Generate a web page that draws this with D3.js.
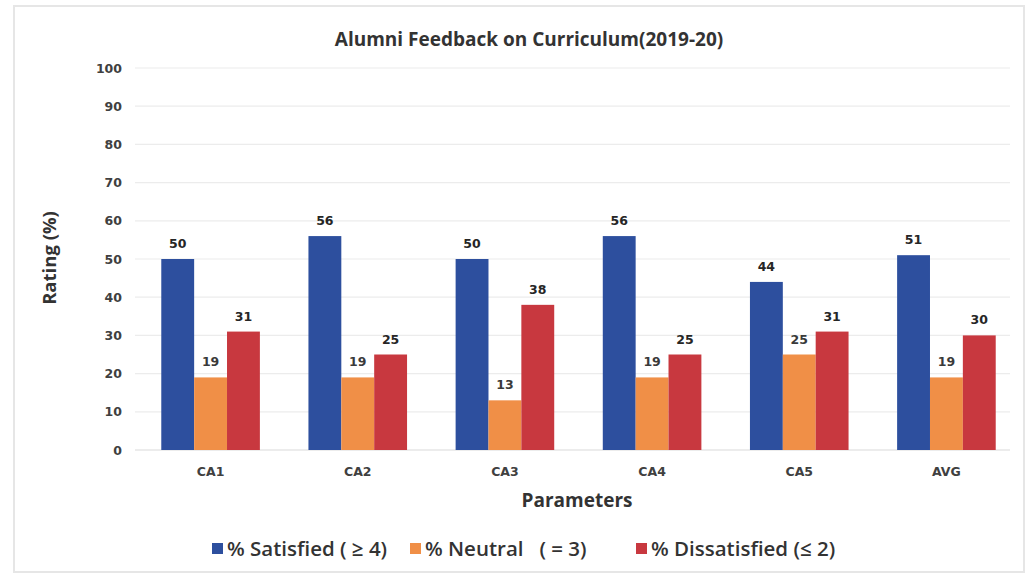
<!DOCTYPE html>
<html><head><meta charset="utf-8">
<script src="https://cdn.jsdelivr.net/npm/d3@7"></script>
<style>body{margin:0;background:#fff}</style>
</head><body>
<svg id="c" width="1029" height="575"></svg>
<script>
const categories = ["CA1","CA2","CA3","CA4","CA5","AVG"];
const seriesNames = ["% Satisfied ( \u2265 4)","% Neutral\u00a0\u00a0\u00a0(\u00a0=\u00a03)","% Dissatisfied (\u2264 2)"];
const satisfied = [50,56,50,56,44,51];
const neutral = [19,19,13,19,25,19];
const dissatisfied = [31,25,38,25,31,30];
const yTicks = [0,10,20,30,40,50,60,70,80,90,100];
const colors = ["#2D4F9E","#F08F47","#C8383F"];

const series = [satisfied, neutral, dissatisfied];
const svg = d3.select("#c");
svg.append("rect").attr("x",14).attr("y",6).attr("width",1010).attr("height",566)
  .attr("fill","none").attr("stroke","#e6e6e6").attr("stroke-width",2);

const x0 = d3.scaleBand().domain(categories).range([137,1020]).paddingInner(0.33).paddingOuter(0.165);
const x1 = d3.scaleBand().domain(d3.range(3)).range([0,x0.bandwidth()]);
const y = d3.scaleLinear().domain([0,100]).range([450,68]);

svg.append("g").selectAll("line").data(yTicks).join("line")
  .attr("x1",135).attr("x2",1010).attr("y1",d=>y(d)).attr("y2",d=>y(d))
  .attr("stroke",d=>d===0?"#d9d9d9":"#ececec").attr("stroke-width",1.2);

const yAxis = d3.axisLeft(y).tickValues(yTicks).tickSize(0).tickPadding(0);
const ga = svg.append("g").attr("transform","translate(122,0)").call(yAxis);
ga.select(".domain").remove();
ga.selectAll("text").attr("font-family","DejaVu Sans").attr("font-weight","bold")
  .attr("font-size",12.5).attr("fill","#404040");

const xAxis = d3.axisBottom(x0).tickSize(0).tickPadding(0);
const gx = svg.append("g").attr("transform","translate(0,467)").call(xAxis);
gx.select(".domain").remove();
gx.selectAll("text").attr("font-family","DejaVu Sans").attr("font-weight","bold")
  .attr("font-size",12.5).attr("fill","#404040");

const groups = svg.append("g").selectAll("g").data(categories).join("g")
  .attr("transform",c=>`translate(${x0(c)},0)`);
groups.selectAll("rect").data((c,i)=>series.map((s,k)=>({k,v:s[i]}))).join("rect")
  .attr("x",d=>x1(d.k)).attr("width",x1.bandwidth())
  .attr("y",d=>y(d.v)).attr("height",d=>y(0)-y(d.v)).attr("fill",d=>colors[d.k]);
groups.selectAll("text").data((c,i)=>series.map((s,k)=>({k,v:s[i]}))).join("text")
  .attr("x",d=>x1(d.k)+x1.bandwidth()/2).attr("y",d=>y(d.v)-11)
  .attr("text-anchor","middle").attr("font-family","DejaVu Sans").attr("font-weight","bold")
  .attr("font-size",12.5).attr("fill",d=>d.k===1?"#3a3a3a":"#262626").text(d=>d.v);

svg.append("text").attr("x",529).attr("y",46).attr("text-anchor","middle")
  .attr("font-family","Open Sans").attr("font-weight",700).attr("font-size",19)
  .attr("fill","#333").text("Alumni Feedback on Curriculum(2019-20)");
svg.append("text").attr("transform","translate(56,258) rotate(-90)").attr("text-anchor","middle")
  .attr("font-family","Open Sans").attr("font-weight",700).attr("font-size",18.5)
  .attr("fill","#333").text("Rating (%)");
svg.append("text").attr("x",577).attr("y",507).attr("text-anchor","middle")
  .attr("font-family","Open Sans").attr("font-weight",700).attr("font-size",19)
  .attr("fill","#333").text("Parameters");

const legX = [212,410,636];
const lg = svg.append("g").selectAll("g").data(seriesNames).join("g")
  .attr("transform",(d,i)=>`translate(${legX[i]},549)`);
lg.append("rect").attr("x",0).attr("y",-6).attr("width",11).attr("height",11).attr("fill",(d,i)=>colors[i]);
lg.append("text").attr("x",15).attr("y",7).attr("font-family","Open Sans").attr("font-weight",600)
  .attr("font-size",20.5).attr("fill","#333").text(d=>d);
</script>
</body></html>
